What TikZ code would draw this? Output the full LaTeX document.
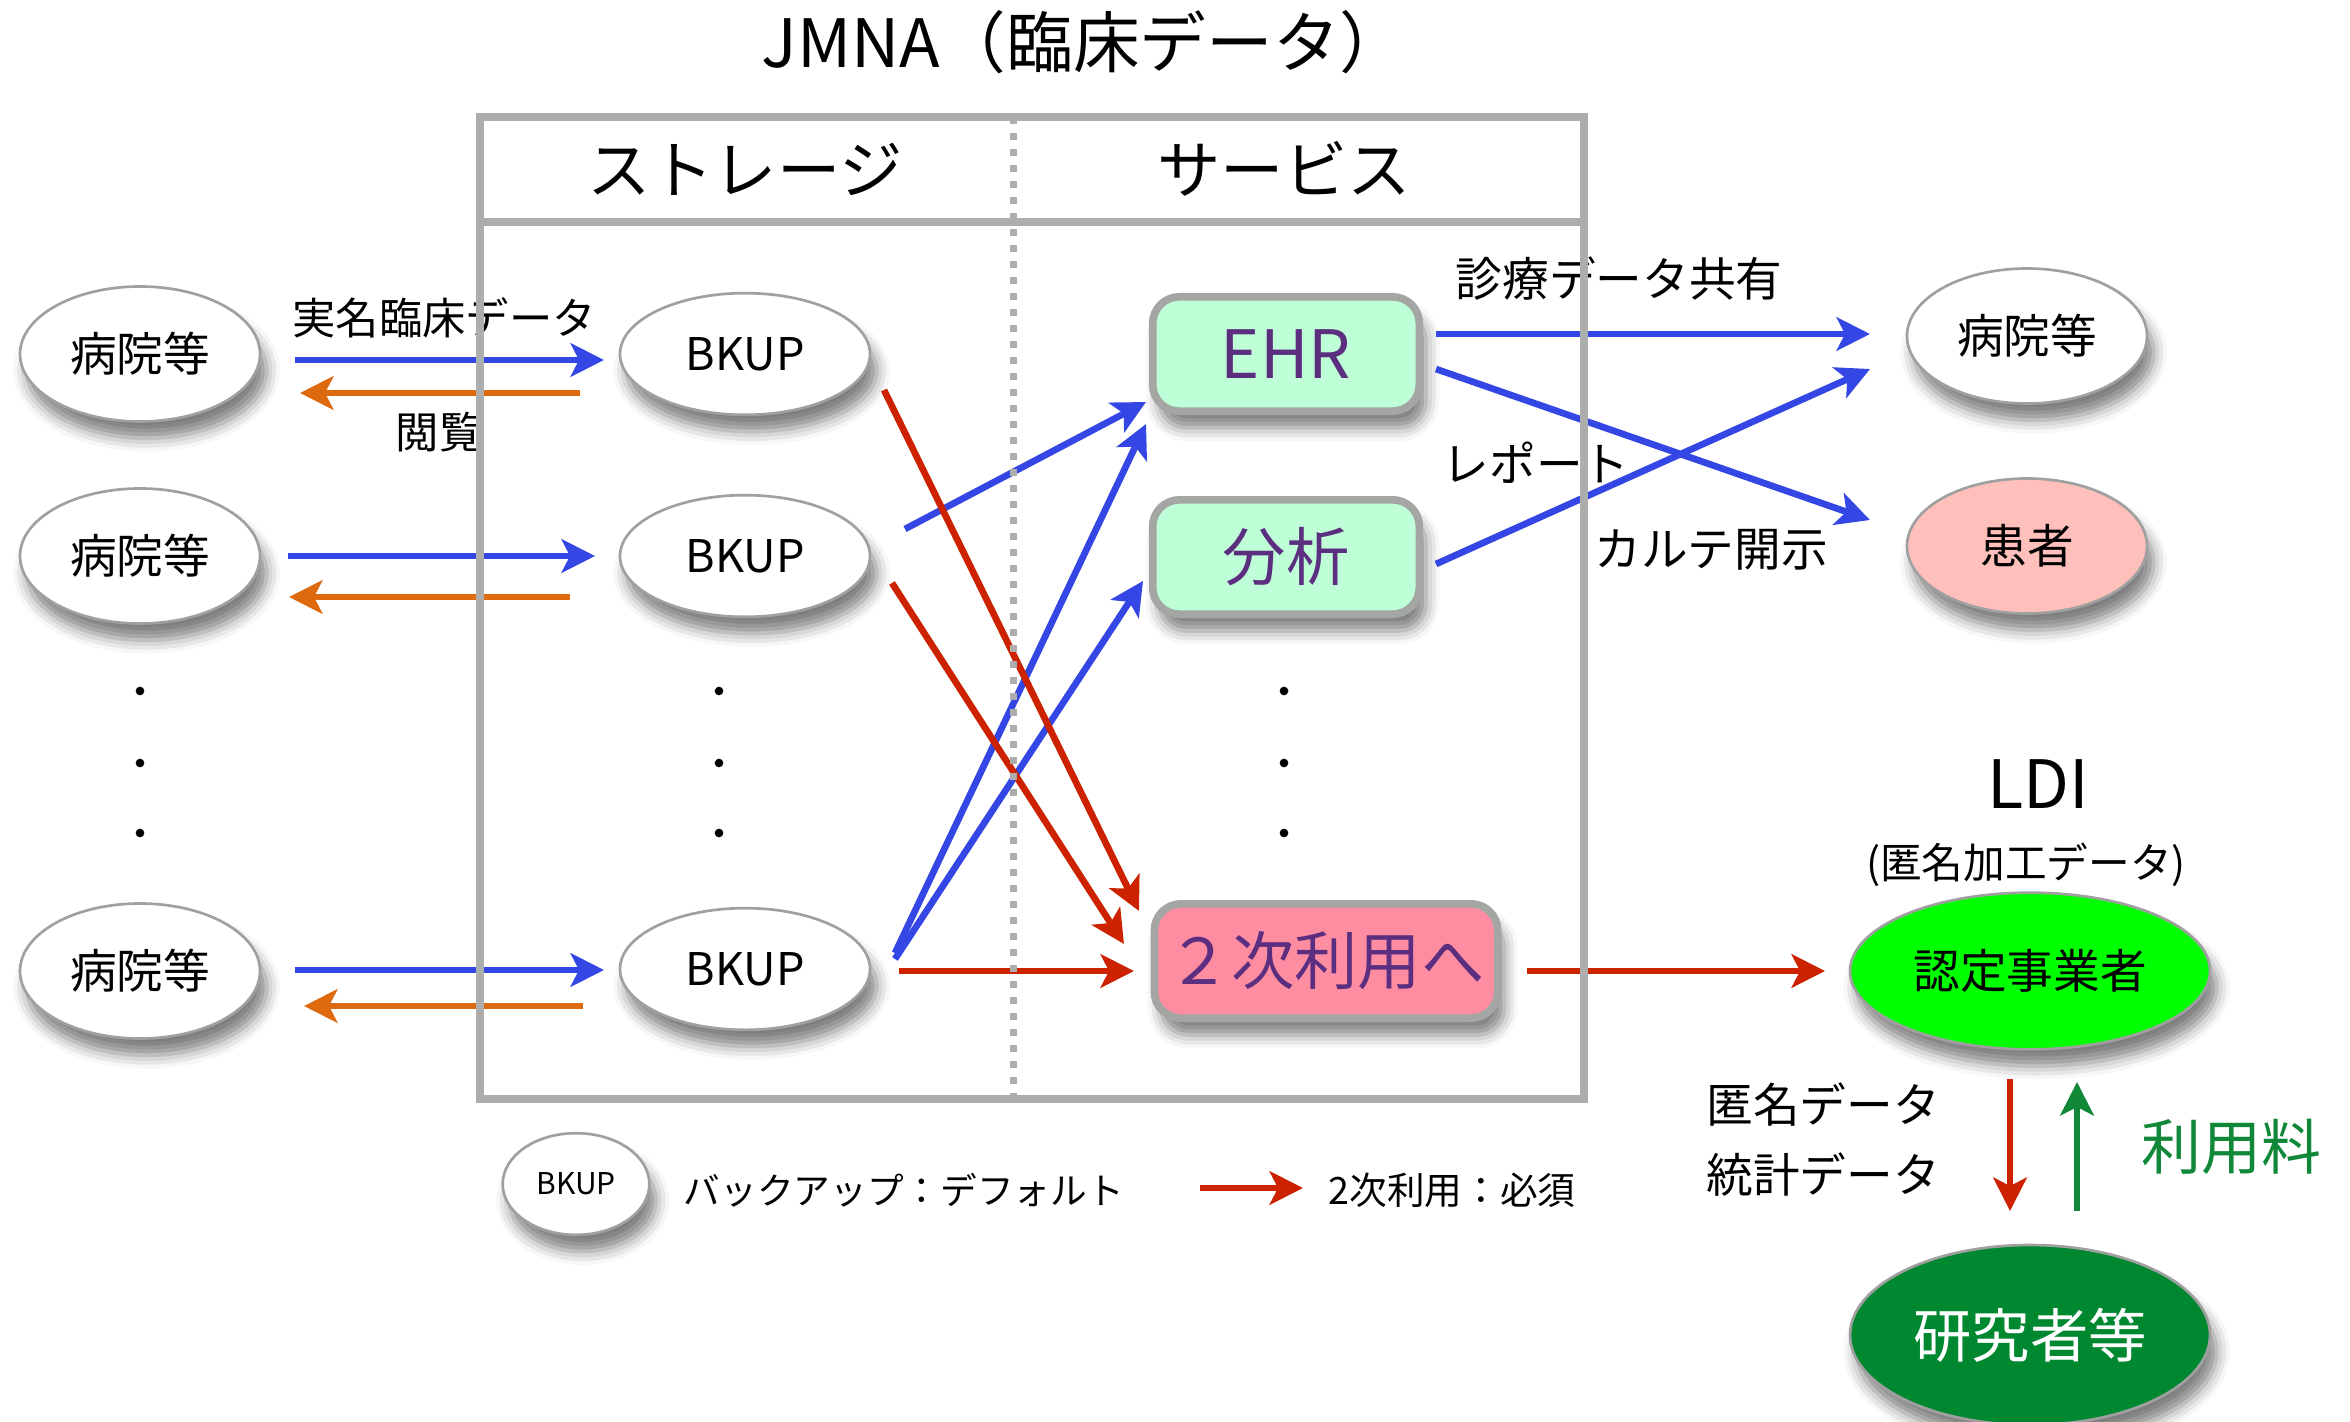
\documentclass[tikz,border=0pt]{standalone}
\usepackage{fontspec}
\setmainfont{Noto Sans CJK JP}
\usetikzlibrary{shapes.geometric,arrows.meta,calc,shadows.blur}
\definecolor{arrblue}{RGB}{52,71,228}
\definecolor{arrorange}{RGB}{222,106,16}
\definecolor{arrred}{RGB}{204,34,0}
\definecolor{arrgreen}{RGB}{16,136,56}
\definecolor{boxgray}{RGB}{173,173,173}
\definecolor{svcgray}{RGB}{163,166,163}
\definecolor{ovalgray}{RGB}{160,160,160}
\definecolor{mint}{RGB}{191,255,216}
\definecolor{secpink}{RGB}{255,141,161}
\definecolor{kanjapink}{RGB}{255,192,187}
\definecolor{ninteigreen}{RGB}{0,255,0}
\definecolor{kenkyugreen}{RGB}{0,136,48}
\definecolor{svcpurple}{RGB}{91,46,128}

\begin{document}
\begin{tikzpicture}[x=0.3pt,y=-0.3pt,
  shad/.style={blur shadow={shadow xshift=2pt,shadow yshift=-5pt,shadow blur radius=4pt,shadow opacity=50}},
  oval/.style={ellipse,draw=ovalgray,line width=0.8pt,fill=white,inner sep=0pt,shad,font=\fontsize{14pt}{16pt}\selectfont},
  hosp/.style={oval,minimum width=72pt,minimum height=40.5pt},
  bkup/.style={oval,minimum width=75pt,minimum height=36.5pt,font=\fontsize{13.5pt}{16pt}\selectfont},
  svc/.style={rectangle,rounded corners=8pt,draw=svcgray,line width=2.3pt,fill=mint,text=svcpurple,inner sep=0pt,minimum width=80pt,minimum height=34.3pt,shad,font=\fontsize{19pt}{22pt}\selectfont},
  lab/.style={inner sep=0pt,font=\fontsize{14pt}{16pt}\selectfont},
  arr/.style={line width=2pt,-{Stealth[length=10pt,width=10pt,inset=2.5pt]}}]
\useasboundingbox (0,0) rectangle (2350,1421);

\node[lab,font=\fontsize{20pt}{22pt}\selectfont] (title) at (1084,42) {JMNA（臨床データ）};
\node[lab,font=\fontsize{19pt}{22pt}\selectfont] (storage) at (745,169) {ストレージ};
\node[lab,font=\fontsize{19pt}{22pt}\selectfont] (service) at (1284,169) {サービス};

\node[hosp] (h1) at (140,354) {病院等}; % left row 1
\node[hosp] (h2) at (140,556) {病院等}; % left row 2
\node[hosp] (h3) at (140,971) {病院等}; % left row 3
\node[bkup] (b1) at (745,354) {BKUP}; % storage row 1
\node[bkup] (b2) at (745,556) {BKUP}; % storage row 2
\node[bkup] (b3) at (745,969) {BKUP}; % storage row 3

\node[svc] (ehr) at (1286,354) {\fontsize{20pt}{22pt}\selectfont EHR};
\node[svc] (anal) at (1286,557) {分析};
\node[svc,fill=secpink,minimum width=103pt] (sec) at (1326,961) {２次利用へ};

\node[hosp] (h4) at (2027,336) {病院等}; % right
\node[hosp,fill=kanjapink] (kanja) at (2027,546) {患者};
\node[oval,fill=ninteigreen,minimum width=108pt,minimum height=47pt] (nin) at (2030,971) {認定事業者};
\node[oval,fill=kenkyugreen,text=white,minimum width=108pt,minimum height=54pt,font=\fontsize{17.5pt}{20pt}\selectfont] (ken) at (2030,1335) {研究者等};

\fill (140,691) circle (1.3pt); \fill (140,763) circle (1.3pt); \fill (140,833) circle (1.3pt); % left dots
\fill (719,691) circle (1.3pt); \fill (719,763) circle (1.3pt); \fill (719,833) circle (1.3pt); % storage dots
\fill (1284,691) circle (1.3pt); \fill (1284,763) circle (1.3pt); \fill (1284,833) circle (1.3pt); % service dots

\draw[arr,arrblue] ($(h1)+(155,6)$) -- ($(b1)+(-141,6)$); % row 1
\draw[arr,arrorange] ($(b1)+(-165,39)$) -- ($(h1)+(160,39)$);
\draw[arr,arrblue] ($(h2)+(148,0)$) -- ($(b2)+(-150,0)$); % row 2
\draw[arr,arrorange] ($(b2)+(-175,41)$) -- ($(h2)+(149,41)$);
\draw[arr,arrblue] ($(h3)+(155,-1)$) -- ($(b3)+(-141,1)$); % row 3
\draw[arr,arrorange] ($(b3)+(-162,37)$) -- ($(h3)+(164,35)$);
\node[lab,font=\fontsize{13pt}{15pt}\selectfont] (jitsumei) at (444,318) {実名臨床データ};
\node[lab,font=\fontsize{13pt}{15pt}\selectfont] (etsuran) at (439,432) {閲覧};

\draw[arr,arrblue] ($(b2)+(160,-27)$) -- ($(ehr)+(-140,48)$);
\draw[arr,arrblue] ($(b3)+(150,-16)$) -- ($(ehr)+(-140,70)$);
\draw[arr,arrblue] ($(b3)+(150,-10)$) -- ($(anal)+(-143,24)$);
\draw[arr,arrred] ($(b1)+(139,36)$) -- ($(sec)+(-187,-50)$);
\draw[arr,arrred] ($(b2)+(147,27)$) -- ($(sec)+(-202,-17)$);
\draw[arr,arrred] ($(b3)+(154,2)$) -- ($(sec)+(-192,10)$);
\draw[arr,arrred] ($(sec)+(201,10)$) -- ($(nin)+(-205,0)$);

\draw[arr,arrblue] ($(ehr)+(150,-20)$) -- ($(h4)+(-157,-2)$);
\draw[arr,arrblue] ($(ehr)+(150,15)$) -- ($(kanja)+(-157,-26)$);
\draw[arr,arrblue] ($(anal)+(150,7)$) -- ($(h4)+(-157,33)$);
\node[lab] (kyoyu) at (1619,279) {診療データ共有};
\node[lab] (report) at (1536,463) {レポート};
\node[lab] (kaiji) at (1711,550) {カルテ開示};

\node[lab,font=\fontsize{20pt}{22pt}\selectfont] (ldi) at (2038,784) {LDI};
\node[lab,font=\fontsize{12.5pt}{15pt}\selectfont] (tokumeikako) at (2026,865) {(匿名加工データ)};
\draw[arr,arrred] ($(nin)+(-20,108)$) -- ($(ken)+(-20,-124)$); % data down
\draw[arr,arrgreen] ($(ken)+(47,-124)$) -- ($(nin)+(47,111)$); % fee up
\node[lab] (tokumei) at (1823,1105) {匿名データ};
\node[lab] (tokei) at (1823,1175) {統計データ};
\node[lab,text=arrgreen,font=\fontsize{18pt}{20pt}\selectfont] (ryoukin) at (2231,1147) {利用料};

\node[oval,minimum width=44pt,minimum height=30.5pt,font=\fontsize{9pt}{11pt}\selectfont] (legb) at (576,1184) {BKUP}; % legend
\node[lab,anchor=west,font=\fontsize{11pt}{13pt}\selectfont] (legbtext) at (683,1190) {バックアップ：デフォルト};
\coordinate (legs) at (1200,1188);
\coordinate (lege) at (1303,1188);
\draw[arr,arrred] (legs) -- (lege);
\node[lab,anchor=west,font=\fontsize{11.3pt}{13pt}\selectfont] (legatext) at (1328,1190) {2次利用：必須};

\draw[boxgray,line width=2.3pt] (480,117) rectangle (1584,1099); % JMNA box
\draw[boxgray,line width=2.3pt] (480,222) -- (1584,222);
\draw[boxgray,line width=2.1pt,dash pattern=on 2.1pt off 2.7pt] (1013,117) -- (1013,1099);
\end{tikzpicture}
\end{document}
